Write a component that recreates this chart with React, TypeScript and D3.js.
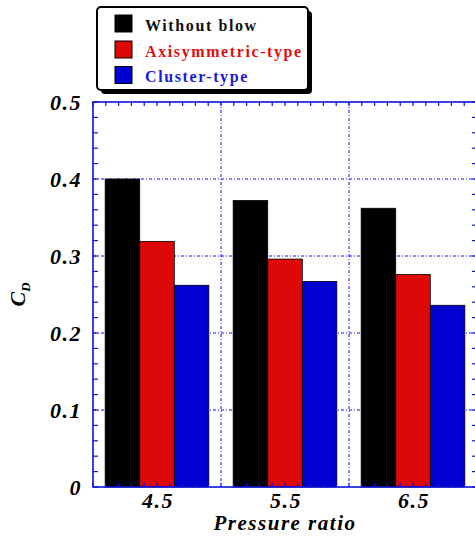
import { useRef, useEffect } from "react"
import * as d3 from "d3"

const categories = [4.5, 5.5, 6.5]
const seriesNames = ["Without blow", "Axisymmetric-type", "Cluster-type"]
const withoutBlow = [0.4, 0.372, 0.362]
const axisymmetric = [0.319, 0.296, 0.276]
const cluster = [0.262, 0.267, 0.236]
const yTicks = [0, 0.1, 0.2, 0.3, 0.4, 0.5]

const colors = ["#000000", "#dd0808", "#0000d0"]
const textColors = ["#111111", "#e01010", "#1a1ae0"]
const axisBlue = "#1010e0"

export default function App() {
  const svgRef = useRef<SVGSVGElement | null>(null)

  useEffect(() => {
    if (!svgRef.current) return
    const svg = d3.select(svgRef.current)
    svg.selectAll("*").remove()

    const left = 93
    const right = 477
    const top = 102
    const bottom = 487

    const x = d3.scaleLinear().domain([4, 7]).range([left, right])
    const y = d3.scaleLinear().domain([0, 0.5]).range([bottom, top])
    const barW = 0.27
    const series = [withoutBlow, axisymmetric, cluster]

    // Grid lines
    const grid = svg.append("g").attr("stroke", axisBlue).attr("stroke-width", 1).attr("stroke-dasharray", "3,2,1,2")
    yTicks.slice(1, -1).forEach((t) => {
      grid.append("line").attr("x1", left).attr("x2", right).attr("y1", y(t)).attr("y2", y(t))
    })
    ;[5, 6].forEach((t) => {
      grid.append("line").attr("x1", x(t)).attr("x2", x(t)).attr("y1", top).attr("y2", bottom)
    })

    // Bars
    series.forEach((vals, s) => {
      svg
        .append("g")
        .selectAll("rect")
        .data(vals)
        .enter()
        .append("rect")
        .attr("x", (_, i) => x(categories[i] + (s - 1.5) * barW))
        .attr("width", x(4 + barW) - x(4))
        .attr("y", (d) => y(d))
        .attr("height", (d) => y(0) - y(d))
        .attr("fill", colors[s])
        .attr("stroke", "#000")
        .attr("stroke-width", 0.8)
    })

    // Axes frame + ticks
    const ax = svg.append("g").attr("stroke", axisBlue)
    ax.append("rect")
      .attr("x", left)
      .attr("y", top)
      .attr("width", right - left)
      .attr("height", bottom - top)
      .attr("fill", "none")
      .attr("stroke-width", 1.6)

    const yMinor = d3.range(0, 0.5001, 0.02)
    yMinor.forEach((t) => {
      ax.append("line").attr("x1", left).attr("x2", left + 5).attr("y1", y(t)).attr("y2", y(t)).attr("stroke-width", 1.2)
      ax.append("line").attr("x1", right).attr("x2", right - 5).attr("y1", y(t)).attr("y2", y(t)).attr("stroke-width", 1.2)
    })
    const xMinor = d3.range(4, 7.0001, 0.1)
    xMinor.forEach((t) => {
      ax.append("line").attr("x1", x(t)).attr("x2", x(t)).attr("y1", bottom).attr("y2", bottom - 4).attr("stroke-width", 1.2)
      ax.append("line").attr("x1", x(t)).attr("x2", x(t)).attr("y1", top).attr("y2", top + 4).attr("stroke-width", 1.2)
    })

    // Tick labels
    const font = "'Liberation Serif', 'Times New Roman', serif"
    svg
      .append("g")
      .selectAll("text")
      .data(yTicks)
      .enter()
      .append("text")
      .attr("x", 82)
      .attr("y", (d) => y(d))
      .attr("dy", "0.35em")
      .attr("text-anchor", "end")
      .style("font-family", font)
      .style("font-weight", "bold")
      .style("font-style", "italic")
      .style("font-size", "22px")
      .style("letter-spacing", "1.5px")
      .text((d) => (d === 0 ? "0" : d.toFixed(1)))

    svg
      .append("g")
      .selectAll("text")
      .data(categories)
      .enter()
      .append("text")
      .attr("x", (d) => x(d) + 1)
      .attr("y", 508)
      .attr("text-anchor", "middle")
      .style("font-family", font)
      .style("font-weight", "bold")
      .style("font-style", "italic")
      .style("font-size", "22px")
      .style("letter-spacing", "1.5px")
      .text((d) => d.toFixed(1))

    svg
      .append("text")
      .attr("x", 285)
      .attr("y", 530)
      .attr("text-anchor", "middle")
      .style("font-family", font)
      .style("font-weight", "bold")
      .style("font-style", "italic")
      .style("font-size", "21px")
      .style("letter-spacing", "1.5px")
      .text("Pressure ratio")

    const yl = svg
      .append("text")
      .attr("transform", `translate(25,${(top + bottom) / 2}) rotate(-90)`)
      .attr("text-anchor", "middle")
      .style("font-family", font)
      .style("font-weight", "bold")
      .style("font-style", "italic")
      .style("font-size", "22px")
    yl.append("tspan").text("C")
    yl.append("tspan").attr("dy", 5).style("font-size", "13px").text("D")

    // Legend
    const lg = svg.append("g")
    lg.append("rect").attr("x", 101).attr("y", 11).attr("width", 211).attr("height", 83).attr("rx", 4).attr("fill", "#000")
    lg.append("rect")
      .attr("x", 97)
      .attr("y", 7)
      .attr("width", 211)
      .attr("height", 83)
      .attr("rx", 4)
      .attr("fill", "#fff")
      .attr("stroke", "#000")
      .attr("stroke-width", 2)
    const rowY = [23.5, 49.5, 75]
    seriesNames.forEach((name, i) => {
      lg.append("rect")
        .attr("x", 115)
        .attr("y", rowY[i] - 8.5)
        .attr("width", 17)
        .attr("height", 17)
        .attr("fill", colors[i])
        .attr("stroke", "#000")
        .attr("stroke-width", 1)
      lg.append("text")
        .attr("x", 145)
        .attr("y", rowY[i] + 7)
        .attr("fill", textColors[i])
        .style("font-family", font)
        .style("font-weight", "bold")
        .style("font-size", "16px")
        .style("letter-spacing", "1.6px")
        .text(name)
    })
  }, [])

  return (
    <svg
      ref={svgRef}
      width={475}
      height={540}
      style={{ position: "absolute", left: 0, top: 0, background: "#fff" }}
    ></svg>
  )
}
